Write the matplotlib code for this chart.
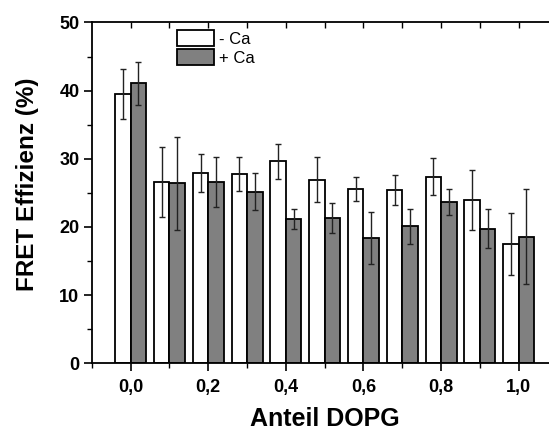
import matplotlib
matplotlib.use("Agg")
import matplotlib.pyplot as plt
from matplotlib.patches import Patch
from matplotlib.ticker import MultipleLocator
import numpy as np

plt.rcParams["font.family"] = ["Liberation Sans", "DejaVu Sans"]

# Anteil DOPG und FRET-Effizienz (%) ohne / mit Calcium
dopg = [0.0, 0.1, 0.2, 0.3, 0.4, 0.5, 0.6, 0.7, 0.8, 0.9, 1.0]
fret_ohne_ca = [39.5, 26.6, 27.95, 27.8, 29.65, 26.9, 25.6, 25.4, 27.35, 23.95, 17.5]
err_ohne_ca = [3.7, 5.1, 2.75, 2.5, 2.55, 3.3, 1.75, 2.25, 2.7, 4.35, 4.6]
fret_mit_ca = [41.05, 26.4, 26.6, 25.15, 21.2, 21.3, 18.4, 20.1, 23.65, 19.75, 18.6]
err_mit_ca = [3.1, 6.8, 3.7, 2.7, 1.5, 2.25, 3.8, 2.55, 1.95, 2.85, 6.9]

xticks = [0.0, 0.2, 0.4, 0.6, 0.8, 1.0]
xticklabels = ["0,0", "0,2", "0,4", "0,6", "0,8", "1,0"]
yticks = [0, 10, 20, 30, 40, 50]

fig = plt.figure(figsize=(5.49, 4.32), dpi=100)
ax = fig.add_axes([0.1674, 0.159, 0.848, 0.789])

w = 0.04
x = np.array(dopg)
ax.bar(x - w / 2, fret_ohne_ca, width=w, color="white", edgecolor="black",
       linewidth=1.3, zorder=2)
ax.bar(x + w / 2, fret_mit_ca, width=w, color="#808080", edgecolor="black",
       linewidth=1.3, zorder=2)
ax.errorbar(x - w / 2, fret_ohne_ca, yerr=err_ohne_ca, fmt="none",
            ecolor="#222222", elinewidth=1.0, capsize=2.2, capthick=1.0, zorder=3)
ax.errorbar(x + w / 2, fret_mit_ca, yerr=err_mit_ca, fmt="none",
            ecolor="#222222", elinewidth=1.0, capsize=2.2, capthick=1.0, zorder=3)

ax.set_xlim(-0.1, 1.1)
ax.set_ylim(0, 50)
ax.set_xticks(xticks)
ax.set_xticklabels(xticklabels)
ax.set_yticks(yticks)
ax.xaxis.set_minor_locator(MultipleLocator(0.1))
ax.yaxis.set_minor_locator(MultipleLocator(5))

for s in ax.spines.values():
    s.set_linewidth(1.3)

ax.tick_params(axis="both", which="major", direction="out", length=6, width=1.2,
               labelsize=13, pad=3)
ax.tick_params(axis="both", which="minor", direction="out", length=3.5, width=1.0)
ax.tick_params(axis="x", which="major", pad=5)
for lab in ax.get_xticklabels() + ax.get_yticklabels():
    lab.set_fontweight("bold")

# Ticks an der oberen Achse nach innen
secx = ax.secondary_xaxis("top")
secx.set_xticks(dopg)
secx.tick_params(direction="in", length=4, width=1.0, labeltop=False)
secx.spines["top"].set_visible(False)

ax.set_xlabel("Anteil DOPG", fontsize=18, fontweight="bold")
ax.set_ylabel("FRET Effizienz (%)", fontsize=17.5, fontweight="bold")
ax.xaxis.set_label_coords(0.5, -0.183)
ax.xaxis.label.set_va("baseline")
ax.yaxis.set_label_coords(-0.1375, 0.526)
ax.yaxis.label.set_va("center")

handles = [Patch(facecolor="white", edgecolor="black", linewidth=1.3, label="- Ca"),
           Patch(facecolor="#808080", edgecolor="black", linewidth=1.3, label="+ Ca")]
ax.legend(handles=handles, loc="upper left", bbox_to_anchor=(0.158, 1.012),
          frameon=False, fontsize=12, handlelength=2.2, handleheight=1.1,
          handletextpad=0.3, labelspacing=0.15, borderaxespad=0.3)

fig.savefig("out.png", dpi=100)
